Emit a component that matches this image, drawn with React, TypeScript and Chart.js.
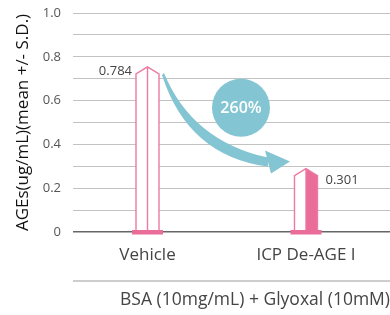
import React, { useEffect, useRef } from 'react';
import Chart from 'chart.js/auto';

const CATEGORIES = ['Vehicle', 'ICP De-AGE I'];
const VALUES = [0.784, 0.301];
const Y_TITLE = 'AGEs(ug/mL)(mean +/- S.D.)';
const X_TITLE = 'BSA (10mg/mL) + Glyoxal (10mM)';
const INCREASE_LABEL = '260%';
const HALF_FILLED = [false, true];

const FONT = "'Open Sans', 'Noto Sans', sans-serif";
const PINK_LINE = '#ec7aa3';
const PINK_FILL = '#ea6d99';
const TEAL = '#84c5d3';

const decorPlugin = {
  id: 'decor',
  afterDatasetsDraw(chart: any) {
    const ctx = chart.ctx;
    const meta = chart.getDatasetMeta(0);
    const els = meta.data.map((el: any) => el.getProps(['x', 'y', 'base', 'width'], true));
    ctx.save();
    els.forEach((b: any, i: number) => {
      const hw = b.width / 2;
      const peak = b.y;
      const shoulder = peak + 7;
      const base = b.base;
      ctx.beginPath();
      ctx.moveTo(b.x - hw, base);
      ctx.lineTo(b.x - hw, shoulder);
      ctx.lineTo(b.x, peak);
      ctx.lineTo(b.x + hw, shoulder);
      ctx.lineTo(b.x + hw, base);
      ctx.closePath();
      ctx.fillStyle = '#ffffff';
      ctx.fill();
      if (HALF_FILLED[i]) {
        ctx.beginPath();
        ctx.moveTo(b.x, base);
        ctx.lineTo(b.x, peak);
        ctx.lineTo(b.x + hw, shoulder);
        ctx.lineTo(b.x + hw, base);
        ctx.closePath();
        ctx.fillStyle = PINK_FILL;
        ctx.fill();
      }
      ctx.beginPath();
      ctx.moveTo(b.x - hw, base);
      ctx.lineTo(b.x - hw, shoulder);
      ctx.lineTo(b.x, peak);
      ctx.lineTo(b.x + hw, shoulder);
      ctx.lineTo(b.x + hw, base);
      ctx.moveTo(b.x, peak);
      ctx.lineTo(b.x, base);
      ctx.strokeStyle = PINK_LINE;
      ctx.lineWidth = 1.4;
      ctx.lineJoin = 'miter';
      ctx.stroke();
      ctx.fillStyle = PINK_FILL;
      ctx.fillRect(b.x - hw - 4, base - 2, b.width + 8, 4.5);
      ctx.font = `13px ${FONT}`;
      ctx.fillStyle = '#444';
      ctx.textBaseline = 'middle';
      const txt = VALUES[i].toFixed(3);
      if (i === 0) {
        ctx.textAlign = 'right';
        ctx.fillText(txt, b.x - hw - 4, peak + 4.5);
      } else {
        ctx.textAlign = 'left';
        ctx.fillText(txt, b.x + hw + 8, peak + 12);
      }
    });

    if (els.length >= 2) {
      const v = els[0];
      const w = els[1];
      const sx = v.x + v.width / 2 + 5;
      const sy = v.y + 7;
      const tx = w.x - w.width / 2 - 4.5;
      const ty = w.y - 7;
      ctx.fillStyle = TEAL;
      ctx.beginPath();
      ctx.moveTo(sx, sy - 1);
      ctx.quadraticCurveTo(sx + 28, sy + 67, tx - 22, ty - 4);
      ctx.lineTo(tx - 22, ty + 5);
      ctx.quadraticCurveTo(sx + 24, sy + 82, sx - 2, sy + 1);
      ctx.closePath();
      ctx.fill();
      ctx.beginPath();
      ctx.moveTo(tx - 25, ty - 11);
      ctx.lineTo(tx, ty);
      ctx.lineTo(tx - 19, ty + 12);
      ctx.closePath();
      ctx.fill();

      const cx = (sx + tx) / 2 + 14;
      const cy = (sy + ty) / 2 - 10;
      ctx.beginPath();
      ctx.arc(cx, cy, 29, 0, Math.PI * 2);
      ctx.fill();
      ctx.fillStyle = '#ffffff';
      ctx.font = `600 16px ${FONT}`;
      ctx.textAlign = 'center';
      ctx.textBaseline = 'middle';
      ctx.fillText(INCREASE_LABEL, cx, cy + 1);
    }

    const xs = chart.scales.x;
    ctx.beginPath();
    ctx.moveTo(chart.chartArea.left, xs.bottom - 34);
    ctx.lineTo(chart.chartArea.right, xs.bottom - 34);
    ctx.strokeStyle = '#bdbdbd';
    ctx.lineWidth = 1.5;
    ctx.stroke();
    ctx.restore();
  },
};

export default function App() {
  const ref = useRef<HTMLCanvasElement>(null);
  useEffect(() => {
    const canvas = ref.current!;
    const chart = new Chart(canvas, {
      type: 'bar',
      data: {
        datasets: [
          {
            data: CATEGORIES.map((_, i) => ({ x: i, y: VALUES[i] })),
            backgroundColor: 'rgba(0,0,0,0)',
            borderWidth: 0,
            barThickness: 23,
            xAxisID: 'x',
            yAxisID: 'yb',
          } as any,
        ],
      },
      options: {
        responsive: false,
        animation: false,
        layout: { padding: { top: 13, left: 0, right: 0, bottom: 0 } },
        plugins: { legend: { display: false }, tooltip: { enabled: false } },
        scales: {
          x: {
            type: 'linear',
            offset: false,
            min: -0.47,
            max: 1.53,
            grid: { display: false, drawTicks: false, offset: false },
            border: { display: false },
            afterBuildTicks: (s: any) => {
              s.ticks = CATEGORIES.map((_, i) => ({ value: i }));
            },
            afterFit: (s: any) => {
              s.height = 83;
              s.paddingLeft = 0;
              s.paddingRight = 0;
            },
            ticks: {
              autoSkip: false,
              maxRotation: 0,
              padding: 13,
              color: '#444',
              font: { family: FONT, size: 17 },
              callback: (v: any) => CATEGORIES[Math.round(Number(v))],
            },
            title: {
              display: true,
              text: X_TITLE,
              align: 'end',
              color: '#444',
              font: { family: FONT, size: 17.5 },
              padding: { top: 0, bottom: 4 },
            },
          },
          y: {
            min: 0,
            max: 1,
            afterFit: (s: any) => {
              s.width = 73;
              s.paddingTop = 0;
              s.paddingBottom = 0;
            },
            ticks: {
              stepSize: 0.1,
              padding: 12,
              color: '#555',
              font: { family: FONT, size: 13 },
              callback: (v: any) => {
                const k = Math.round(Number(v) * 10);
                if (k % 2) return '';
                return k === 0 ? '0' : (k / 10).toFixed(1);
              },
            },
            grid: {
              drawTicks: false,
              color: (c: any) => (c.tick && Math.abs(c.tick.value) < 1e-9 ? '#666' : '#c2c2c2'),
              lineWidth: (c: any) => (c.tick && Math.abs(c.tick.value) < 1e-9 ? 1.6 : 1),
            },
            border: { display: false },
            title: {
              display: true,
              text: Y_TITLE,
              color: '#111',
              font: { family: FONT, size: 17, weight: '500' },
              padding: { top: 13, bottom: 0 },
            },
          },
          yb: {
            display: false,
            min: 0,
            max: 1.04,
          },
        },
      } as any,
      plugins: [decorPlugin],
    });
    return () => chart.destroy();
  }, []);
  return (
    <div style={{ position: 'fixed', left: 0, top: 0, width: 390, height: 315, background: '#fff' }}>
      <canvas ref={ref} width={390} height={315} style={{ display: 'block' }} />
    </div>
  );
}
